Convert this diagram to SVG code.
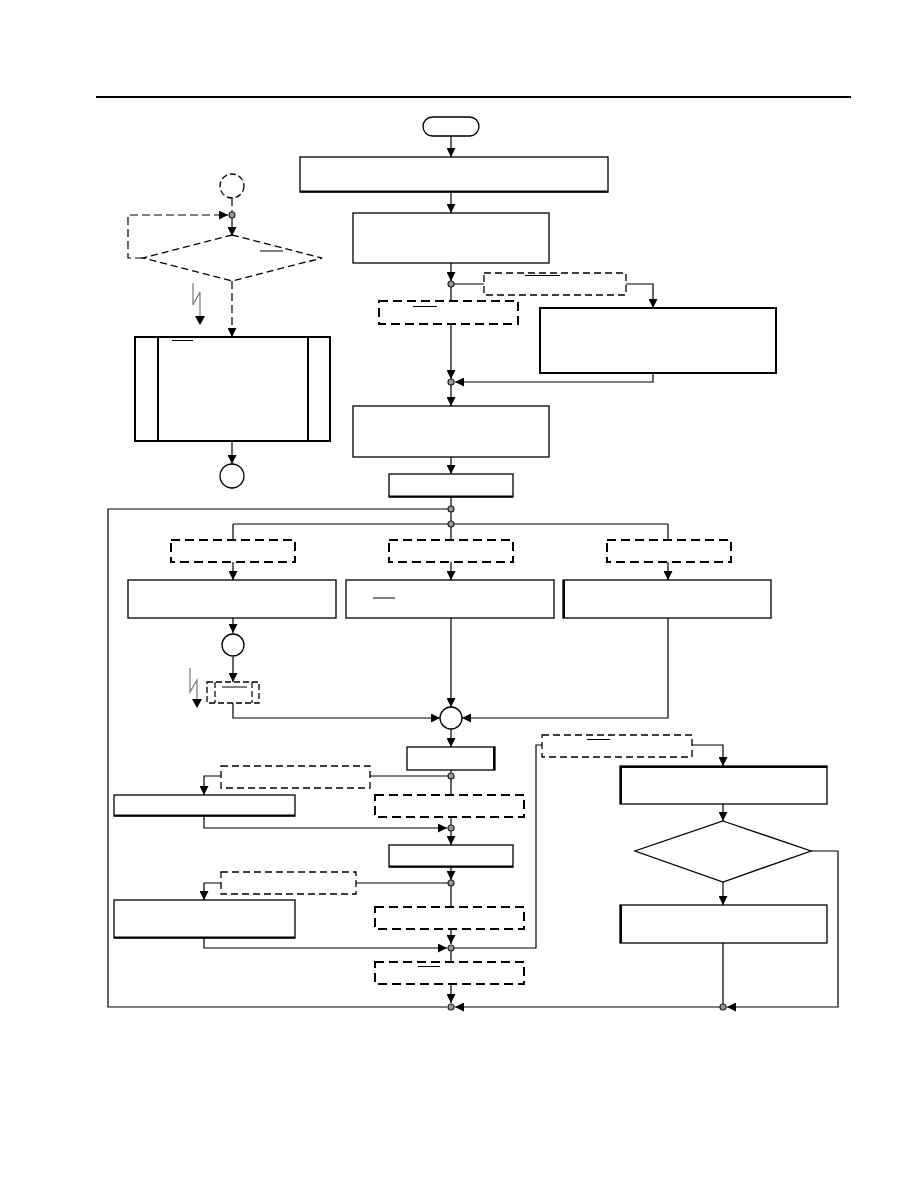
<svg xmlns="http://www.w3.org/2000/svg" width="918" height="1188" viewBox="0 0 918 1188">
<defs>
<style>
.b{fill:#fff;stroke:#000;stroke-width:1.3}
.bt{fill:#fff;stroke:#000;stroke-width:2}
.d{fill:#fff;stroke:#000;stroke-width:1.3;stroke-dasharray:7,4}
.dt{fill:#fff;stroke:#000;stroke-width:2;stroke-dasharray:9,5}
.c{fill:none;stroke:#000;stroke-width:1.2}
.cd{fill:none;stroke:#000;stroke-width:1.2;stroke-dasharray:8,4}
.ov{stroke:#000;stroke-width:1}
.j{fill:#999;stroke:#222;stroke-width:1.2}
.lt{fill:none;stroke:#777;stroke-width:1.2}
</style>
<marker id="a" viewBox="0 0 10 10" refX="10" refY="5" markerWidth="10" markerHeight="9" markerUnits="userSpaceOnUse" orient="auto"><path d="M0,0L10,5L0,10z" fill="#000"/></marker>
</defs>
<rect width="918" height="1188" fill="#fff"/>
<line x1="96" y1="97" x2="851" y2="97" stroke="#000" stroke-width="2.2"/>

<g id="connectors">
<path class="c" d="M451,136V157" marker-end="url(#a)"/>
<path class="c" d="M451,192V213" marker-end="url(#a)"/>
<path class="c" d="M451,263V281" marker-end="url(#a)"/>
<path class="c" d="M451,284H653V308" marker-end="url(#a)"/>
<path class="c" d="M451,284V379" marker-end="url(#a)"/>
<path class="c" d="M653,373V382H455" marker-end="url(#a)"/>
<path class="c" d="M451,382V406" marker-end="url(#a)"/>
<path class="c" d="M451,457V474" marker-end="url(#a)"/>
<path class="c" d="M451,497V524"/>
<path class="c" d="M451,509H108V1007H447"/>
<path class="c" d="M233,524H668"/>
<path class="c" d="M233,524V580" marker-end="url(#a)"/>
<path class="c" d="M451,524V580" marker-end="url(#a)"/>
<path class="c" d="M668,524V580" marker-end="url(#a)"/>
<path class="c" d="M233,618V633" marker-end="url(#a)"/>
<path class="c" d="M233,657V682" marker-end="url(#a)"/>
<path class="c" d="M233,703V718H440" marker-end="url(#a)"/>
<path class="c" d="M451,618V707" marker-end="url(#a)"/>
<path class="c" d="M668,618V718H462" marker-end="url(#a)"/>
<path class="c" d="M451,729V747" marker-end="url(#a)"/>
<path class="c" d="M451,770V828"/>
<path class="c" d="M451,776H204V795" marker-end="url(#a)"/>
<path class="c" d="M204,816V828H447" marker-end="url(#a)"/>
<path class="c" d="M451,828V845" marker-end="url(#a)"/>
<path class="c" d="M451,867V880" marker-end="url(#a)"/>
<path class="c" d="M451,883V944" marker-end="url(#a)"/>
<path class="c" d="M451,883H204V900" marker-end="url(#a)"/>
<path class="c" d="M204,938V948H447" marker-end="url(#a)"/>
<path class="c" d="M451,948H536V745H723V766" marker-end="url(#a)"/>
<path class="c" d="M451,948V1003" marker-end="url(#a)"/>
<path class="c" d="M723,804V821" marker-end="url(#a)"/>
<path class="c" d="M723,882V905" marker-end="url(#a)"/>
<path class="c" d="M811,851H838V1007H727" marker-end="url(#a)"/>
<path class="c" d="M723,943V1007H455" marker-end="url(#a)"/>
<!-- left top -->
<path class="cd" d="M232,198V215"/>
<path class="cd" d="M143,258H128V215H228" marker-end="url(#a)"/>
<path class="c" d="M232,215V236" marker-end="url(#a)"/>
<path class="cd" d="M232,281V337" marker-end="url(#a)"/>
<path class="c" d="M232,441V464" marker-end="url(#a)"/>
<path class="lt" d="M193,283V305L200,292V318"/>
<path d="M195,316H205L200,325z" fill="#000"/>
<path class="lt" d="M190,668V692L197,680V699"/>
<path d="M192,699H202L197,708z" fill="#000"/>
</g>

<g id="start"><rect x="423" y="117" width="56" height="19" rx="9.5" class="b"/></g>
<g id="box1"><rect x="300" y="157" width="308" height="35" class="b"/><line x1="300" y1="191.5" x2="608" y2="191.5" stroke="#000" stroke-width="2"/></g>
<g id="box2"><rect x="353" y="213" width="196" height="50" class="b"/></g>
<g id="cond1"><rect x="484" y="273" width="142" height="22" class="d"/><line class="ov" x1="525" y1="275.5" x2="560" y2="275.5"/></g>
<g id="cond2"><rect x="379" y="301" width="139" height="23" class="dt"/><line class="ov" x1="413" y1="306.5" x2="437" y2="306.5"/></g>
<g id="box3"><rect x="540" y="308" width="236" height="65" class="bt"/></g>
<g id="box4"><rect x="353" y="406" width="196" height="51" class="b"/></g>
<g id="box5"><rect x="389" y="474" width="124" height="23" class="b"/><line x1="389" y1="496.5" x2="513" y2="496.5" stroke="#000" stroke-width="2"/></g>
<g id="cond3"><rect x="171" y="540" width="124" height="22" class="dt"/></g>
<g id="cond4"><rect x="389" y="540" width="124" height="22" class="dt"/></g>
<g id="cond5"><rect x="607" y="540" width="124" height="22" class="dt"/></g>
<g id="box6"><rect x="128" y="580" width="208" height="38" class="b"/></g>
<g id="box7"><rect x="346" y="580" width="208" height="38" class="b"/><line class="ov" x1="373" y1="598" x2="395" y2="598"/></g>
<g id="box8"><rect x="563" y="580" width="208" height="38" class="b"/><line x1="564" y1="580" x2="564" y2="618" stroke="#000" stroke-width="2"/></g>
<g id="conn1"><circle cx="233" cy="645" r="11" class="b"/></g>
<g id="sub1"><rect x="207" y="682" width="52" height="21" class="d" style="stroke-dasharray:6,3"/><line x1="215" y1="682" x2="215" y2="703" class="cd" style="stroke-dasharray:6,3"/><line x1="252" y1="682" x2="252" y2="703" class="cd" style="stroke-dasharray:6,3"/><line class="ov" x1="222" y1="687" x2="247" y2="687"/></g>
<g id="merge"><circle cx="451" cy="718" r="11" class="b"/></g>
<g id="box9"><rect x="407" y="747" width="88" height="23" class="b"/><line x1="494" y1="747" x2="494" y2="770" stroke="#000" stroke-width="2"/></g>
<g id="cond6"><rect x="221" y="766" width="149" height="22" class="d"/></g>
<g id="box10"><rect x="114" y="795" width="181" height="21" class="b"/><line x1="114" y1="815.5" x2="295" y2="815.5" stroke="#000" stroke-width="2"/></g>
<g id="cond7"><rect x="375" y="795" width="149" height="22" class="dt"/></g>
<g id="box11"><rect x="389" y="845" width="124" height="22" class="b"/><line x1="389" y1="866.5" x2="513" y2="866.5" stroke="#000" stroke-width="2"/></g>
<g id="cond8"><rect x="221" y="872" width="135" height="22" class="d"/></g>
<g id="box12"><rect x="114" y="900" width="181" height="38" class="b"/><line x1="114" y1="937.5" x2="295" y2="937.5" stroke="#000" stroke-width="2"/></g>
<g id="cond9"><rect x="375" y="907" width="149" height="22" class="dt"/></g>
<g id="cond10"><rect x="375" y="962" width="149" height="22" class="dt"/><line class="ov" x1="418" y1="966.5" x2="440" y2="966.5"/></g>
<g id="cond11"><rect x="542" y="735" width="150" height="22" class="d"/><line class="ov" x1="587" y1="739.5" x2="610" y2="739.5"/></g>
<g id="box13"><rect x="620" y="766" width="207" height="38" class="b"/><line x1="620" y1="767" x2="827" y2="767" stroke="#000" stroke-width="2"/><line x1="621" y1="766" x2="621" y2="804" stroke="#000" stroke-width="2"/></g>
<g id="dec1"><polygon points="723,821 811,851 723,882 635,851" class="b"/></g>
<g id="box14"><rect x="620" y="905" width="207" height="38" class="b"/><line x1="621" y1="905" x2="621" y2="943" stroke="#000" stroke-width="2"/></g>
<!-- left top section -->
<g id="conn2"><circle cx="232" cy="186" r="12" class="d" style="stroke-dasharray:6,3"/></g>
<g id="dec2"><polygon points="232,235 322,258 232,281 143,258" class="d"/><line class="ov" x1="260" y1="251" x2="283" y2="251"/></g>
<g id="sub2"><rect x="135" y="337" width="195" height="104" class="bt"/><line x1="158" y1="337" x2="158" y2="441" stroke="#000" stroke-width="2"/><line x1="308" y1="337" x2="308" y2="441" stroke="#000" stroke-width="2"/><line class="ov" x1="172" y1="340.5" x2="193" y2="340.5"/></g>
<g id="conn3"><circle cx="232" cy="476" r="12" class="b"/></g>

<g id="junctions">
<circle cx="232" cy="215" r="3" class="j"/>
<circle cx="451" cy="284" r="3" class="j"/>
<circle cx="451" cy="382" r="3" class="j"/>
<circle cx="451" cy="509" r="3" class="j"/>
<circle cx="451" cy="524" r="3" class="j"/>
<circle cx="451" cy="776" r="3" class="j"/>
<circle cx="451" cy="828" r="3" class="j"/>
<circle cx="451" cy="883" r="3" class="j"/>
<circle cx="451" cy="948" r="3" class="j"/>
<circle cx="451" cy="1007" r="3" class="j"/>
<circle cx="723" cy="1007" r="3" class="j"/>
</g>
</svg>
